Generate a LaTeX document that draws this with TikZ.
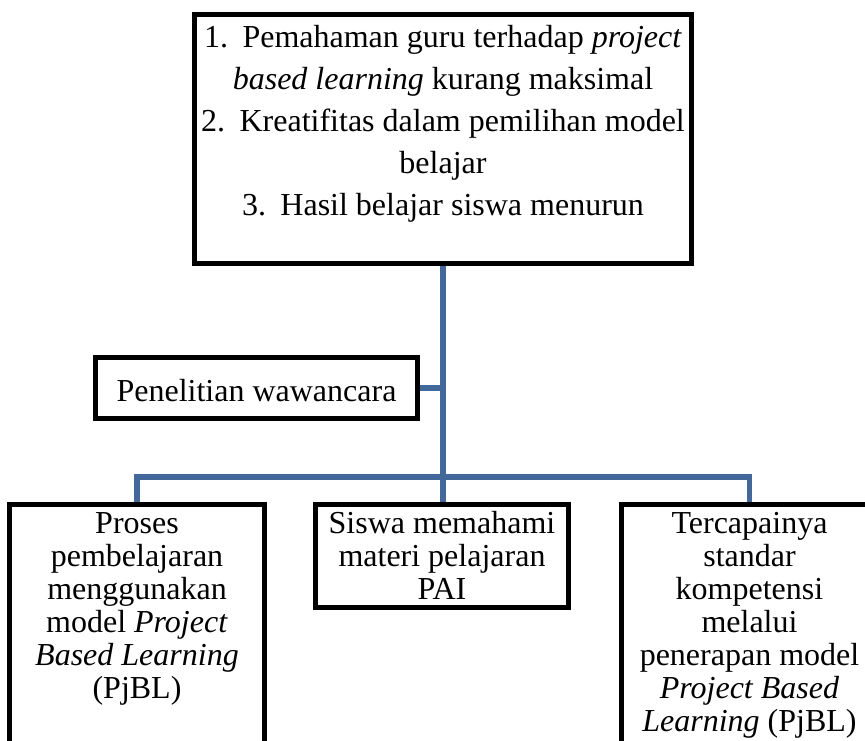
\documentclass[tikz,border=0pt]{standalone}
\usepackage{fontspec}
\setmainfont{Liberation Serif}
\definecolor{garisbiru}{HTML}{43699B}
\newcommand{\isikotak}[5]{\parbox[c][#1][t]{#2}{\centering\fontsize{32}{#3}\selectfont\rule{0pt}{#4}#5}}
\begin{document}
\begin{tikzpicture}[x=1pt, y=-1pt,
  kotak/.style={draw, line width=5pt, inner sep=0pt, fill=white},
  garis/.style={draw=garisbiru, line width=5.5pt}]
  \useasboundingbox (0,0) rectangle (865,741);
  \clip (0,0) rectangle (865,741);
  \coordinate (cabang) at (443,477);
  \node[kotak] (atas) at (443,139) {\isikotak{249pt}{497pt}{42pt}{33pt}{1.\hspace{0.45em}Pemahaman guru terhadap \textit{project}\\ \textit{based learning} kurang maksimal\\ 2.\hspace{0.45em}Kreatifitas dalam pemilihan model\\ belajar\\ 3.\hspace{0.45em}Hasil belajar siswa menurun}};
  \node[kotak, minimum width=322pt, minimum height=61pt, text height=28pt, font=\fontsize{32}{33}\selectfont] (pen) at (256.5,388) {Penelitian wawancara};
  \node[kotak] (kiri) at (137,654.5) {\isikotak{300pt}{255pt}{33pt}{29pt}{Proses\\ pembelajaran\\ menggunakan\\ model \textit{Project}\\ \textit{Based Learning}\\ (PjBL)}};
  \node[kotak] (tengah) at (442,556) {\isikotak{103pt}{253pt}{33pt}{29pt}{Siswa memahami\\ materi pelajaran\\ PAI}};
  \node[kotak] (kanan) at (749.5,654.5) {\isikotak{300pt}{256pt}{33pt}{29pt}{Tercapainya\\ standar\\ kompetensi\\ melalui\\ penerapan model\\ \textit{Project Based}\\ \textit{Learning} (PjBL)}};
  \draw[garis] (atas.south) -- (atas.south |- tengah.north);
  \draw[garis] (pen.east) -- (pen.east -| atas.south);
  \draw[garis] (kiri.north) |- (cabang) -| (kanan.north);
\end{tikzpicture}
\end{document}
